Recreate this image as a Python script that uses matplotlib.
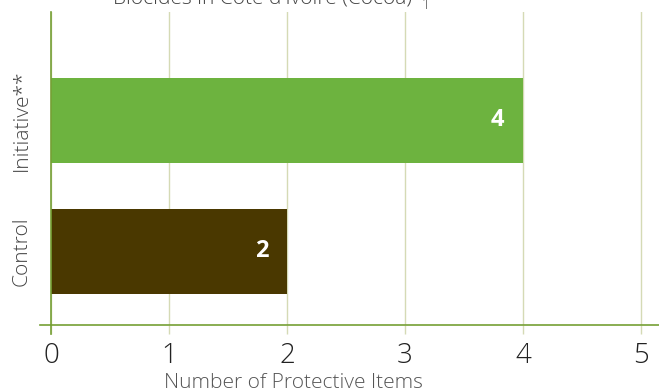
import matplotlib
matplotlib.use("Agg")
import matplotlib.pyplot as plt

plt.rcParams['font.family'] = ['Open Sans', 'DejaVu Sans']

groups = ['Control', 'Initiative**']
values = [2, 4]
colors = ['#4a3800', '#6db33f']
xticks = [0, 1, 2, 3, 4, 5]

W, H = 659, 389
fig = plt.figure(figsize=(W / 100, H / 100), dpi=100)
# axes box in pixels: left 40, top 12, right 659, bottom 325
ax = fig.add_axes([40 / W, 1 - 325 / H, 619 / W, 313 / H])

px_per_unit = 118
ax.set_xlim(-11 / px_per_unit, 608 / px_per_unit)
ax.set_ylim(-0.561, 1.828)

bars = ax.barh(range(len(groups)), values, height=0.65, color=colors, zorder=3)
for i, v in enumerate(values):
    ax.text(v - 0.16, i, str(v), ha='right', va='center', color='white',
            fontsize=17, fontweight='bold', zorder=4)

grid_c = '#d5dab5'
axis_c = '#76a035'
ax.set_xticks(xticks)
ax.set_xticklabels([str(t) for t in xticks], fontsize=20, color='#222222',
                   fontweight='light')
ax.tick_params(axis='x', length=6.5, width=1, color=grid_c, pad=6)
ax.xaxis.grid(True, color=grid_c, linewidth=1, zorder=0)
ax.set_yticks(range(len(groups)))
ax.set_yticklabels(groups, rotation=90, va='center', fontsize=15, color='#444444',
                   fontweight='light')
ax.tick_params(axis='y', length=0, pad=6)

for s in ['top', 'right', 'left']:
    ax.spines[s].set_visible(False)
ax.spines['bottom'].set_color(axis_c)
ax.spines['bottom'].set_linewidth(1.2)
ax.axvline(0, color=axis_c, linewidth=1.2, ymin=0, ymax=1, zorder=5, clip_on=False)
ax.plot([0, 0], [-0.561, -0.63], color=axis_c, linewidth=1.2, clip_on=False, zorder=5)

fig.text(293 / W, 1 - 373 / H, 'Number of Protective Items', ha='center', va='top',
         fontsize=15, color='#555555', fontweight='light')

fig.text(113 / W, 1 - 3 / H, "Biocides in Côte d'Ivoire (Cocoa)", ha='left',
         va='baseline', fontsize=15, color='#444444', fontweight='light')
fig.text(422 / W, 1 - 9 / H, "1", ha='left', va='baseline', fontsize=10,
         color='#444444', fontweight='light')

fig.savefig('out.png', dpi=100)
